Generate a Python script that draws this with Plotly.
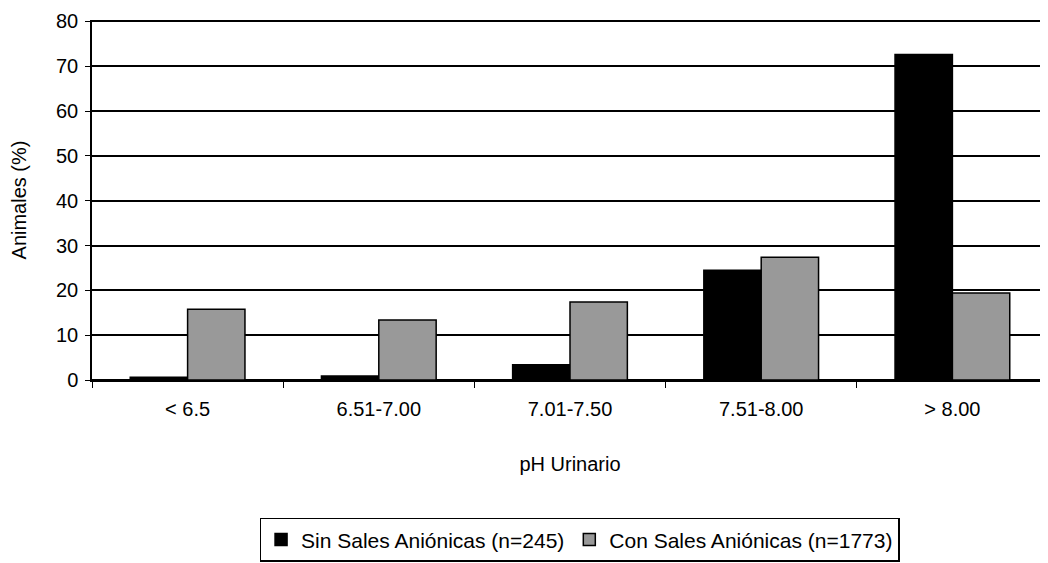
import plotly.graph_objects as go

categories = ["< 6.5", "6.51-7.00", "7.01-7.50", "7.51-8.00", "> 8.00"]
sin_sales = [0.6, 0.9, 3.4, 24.5, 72.6]
con_sales = [15.8, 13.4, 17.4, 27.4, 19.4]
series_names = ["Sin Sales Aniónicas (n=245)", "Con Sales Aniónicas (n=1773)"]
y_ticks = [0, 10, 20, 30, 40, 50, 60, 70, 80]

FONT = "Liberation Sans, Arial, sans-serif"

fig = go.Figure()
fig.add_trace(go.Bar(x=categories, y=sin_sales, name=series_names[0],
                     marker=dict(color="#000000", line=dict(color="#000000", width=1.5))))
fig.add_trace(go.Bar(x=categories, y=con_sales, name=series_names[1],
                     marker=dict(color="#999999", line=dict(color="#000000", width=1.5))))

# page has an 8px body margin, so the figure is drawn 8px down and right
fig.update_layout(
    width=1040, height=555,
    margin=dict(l=84, r=0, t=12, b=183),
    paper_bgcolor="white", plot_bgcolor="white",
    barmode="group", bargap=0.4, bargroupgap=0,
    font=dict(family=FONT, size=20, color="#000000"),
    showlegend=True,
    legend=dict(orientation="h", x=0.51, xanchor="center", y=-0.383, yanchor="top",
                bordercolor="#000000", borderwidth=1.5, bgcolor="white",
                font=dict(size=21), itemwidth=30, tracegroupgap=0),
    xaxis=dict(
        title=dict(text="pH Urinario", standoff=38, font=dict(size=20)),
        automargin=False,
        showline=True, linecolor="#000000", linewidth=1.5,
        ticks="outside", tickson="boundaries", ticklen=6, tickcolor="#000000",
        tickfont=dict(size=20), ticklabelstandoff=10, showgrid=False,
    ),
    yaxis=dict(
        title=dict(text="Animales (%)", standoff=24, font=dict(size=20)),
        automargin=False,
        range=[0, 80.3], tickvals=y_ticks,
        showline=True, linecolor="#000000", linewidth=1.5,
        ticks="outside", ticklen=5, tickcolor="#000000",
        showgrid=True, gridcolor="#000000", gridwidth=1.5,
        zeroline=True, zerolinecolor="#000000", zerolinewidth=1.5,
        tickfont=dict(size=20), ticklabelstandoff=3,
    ),
)

fig.write_html("out.html")
